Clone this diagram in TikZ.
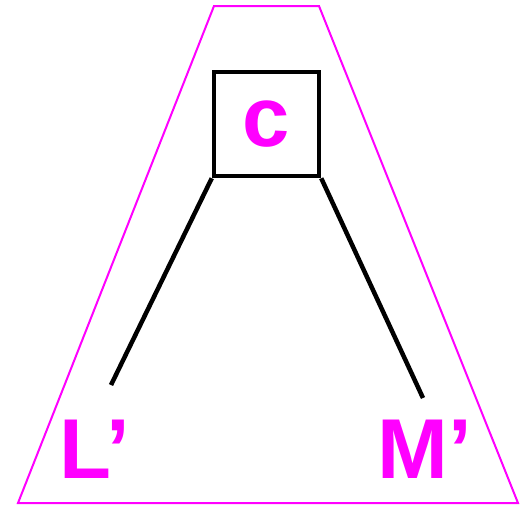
\documentclass[tikz,border=0pt]{standalone}
\usepackage{fontspec}
\setmainfont{Liberation Sans}
\usetikzlibrary{positioning}

\definecolor{magenta}{RGB}{255,0,255}

\begin{document}
\begin{tikzpicture}[x=1pt, y=-1pt,
  frame/.style={draw=magenta, line width=2pt, line join=miter},
  cbox/.style={draw=black, line width=4.5pt, minimum width=105pt, minimum height=104pt, inner sep=0pt,
    font=\fontsize{85}{85}\selectfont\bfseries, text=magenta},
  lbl/.style={font=\fontsize{85}{85}\selectfont\bfseries, text=magenta, inner sep=0pt, anchor=base west},
  link/.style={draw=black, line width=4.5pt}
]
\useasboundingbox (0,0) rectangle (520,507);
% outer trapezoid
\draw[frame] (214,6) -- (319,6) -- (518,503) -- (18,503) -- cycle;
% box and labels
\node[cbox] (cnode) at (266.5,124) {c};
\node[lbl] (lnode) at (59,478) {L’};
\node[lbl] (mnode) at (377,478) {M’};
\coordinate (lend) at (111,385);
\coordinate (mend) at (423,398);
\draw[link] (cnode.south west) -- (lend);
\draw[link] (cnode.south east) -- (mend);
\end{tikzpicture}
\end{document}
